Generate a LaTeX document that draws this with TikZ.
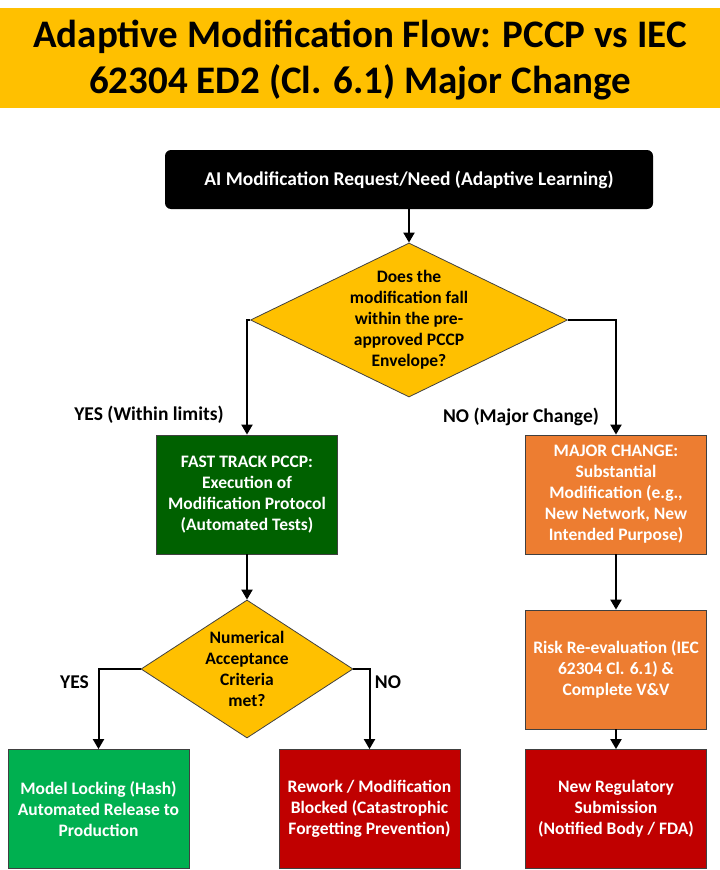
\documentclass[tikz,border=0pt]{standalone}
\usepackage{fontspec}
\setmainfont{Carlito}
\usepackage{tikz}
\usetikzlibrary{arrows.meta, positioning, shapes.geometric}
\definecolor{TitleY}{HTML}{FFC000}
\definecolor{FastG}{HTML}{006100}
\definecolor{LockG}{HTML}{00B050}
\definecolor{MajorO}{HTML}{ED7D31}
\definecolor{StopR}{HTML}{C00000}

\begin{document}
\begin{tikzpicture}[
  x=1pt, y=-1pt,
  font=\bfseries\fontsize{17.5}{21}\selectfont,
  boxbase/.style={draw=black!75, line width=0.8pt, text=white, align=center,
              minimum width=181pt, minimum height=119pt, inner sep=0pt},
  boxF/.style={boxbase, fill=FastG},
  boxM/.style={boxbase, fill=MajorO},
  boxL/.style={boxbase, fill=LockG},
  boxR/.style={boxbase, fill=StopR},
  decide/.style={diamond, draw=black!75, line width=0.8pt, fill=TitleY, inner sep=0pt},
  lab/.style={font=\bfseries\fontsize{19.5}{23}\selectfont, inner sep=0pt},
  arr/.style={line width=2pt, -{Triangle[length=10pt, width=11pt]}}]
\useasboundingbox (0,0) rectangle (720,870);
\fill[TitleY] (0,8) rectangle (720,108);
\node[align=center, font=\bfseries\fontsize{39}{46}\selectfont] (title) at (360,60)
  {Adaptive Modification Flow: PCCP vs IEC\\ 62304 ED2 (Cl. 6.1) Major Change};
\node[fill=black, rounded corners=6pt, text=white, minimum width=488pt, minimum height=59pt,
  font=\bfseries\fontsize{19.5}{23}\selectfont] (req) at (409,179.5)
  {AI Modification Request/Need (Adaptive Learning)};
\node[decide, minimum width=317pt, minimum height=154pt] (q1) at (409,320) {};
\node[align=center] at (q1) {Does the\\ modification fall\\ within the pre-\\ approved PCCP\\ Envelope?};
\node[boxF] (fast) at (247,494.5) {FAST TRACK PCCP:\\ Execution of\\ Modification Protocol\\ (Automated Tests)};
\node[boxM] (major) at (616,494.5) {MAJOR CHANGE:\\ Substantial\\ Modification (e.g.,\\ New Network, New\\ Intended Purpose)};
\node[decide, minimum width=212pt, minimum height=138pt] (q2) at (247,669) {};
\node[align=center] at (q2) {Numerical\\ Acceptance\\ Criteria\\ met?};
\node[boxM] (risk) at (616,669.5) {Risk Re-evaluation (IEC\\ 62304 Cl. 6.1) \&\\ Complete V\&V};
\node[boxL] (lock) at (98.5,809) {Model Locking (Hash)\\ Automated Release to\\ Production};
\node[boxR] (rework) at (369.5,809) {Rework / Modification\\ Blocked (Catastrophic\\ Forgetting Prevention)};
\node[boxR] (submit) at (616,809) {New Regulatory\\ Submission\\ (Notified Body / FDA)};
% branch labels
\node[lab] (yesq1) at (149,415) {YES (Within limits)};
\node[lab] (noq1) at (521,417) {NO (Major Change)};
\node[lab] (yesq2) at (74.5,682) {YES};
\node[lab] (noq2) at (388,682) {NO};
\draw[arr] (req.south) -- (q1.north);
\draw[arr] (q1.west) -| (fast.north);
\draw[arr] (q1.east) -| (major.north);
\draw[arr] (fast.south) -- (q2.north);
\draw[arr] (major.south) -- (risk.north);
\draw[arr] (risk.south) -- (submit.north);
\draw[arr] (q2.west) -| (lock.north);
\draw[arr] (q2.east) -| (rework.north);
\end{tikzpicture}
\end{document}
